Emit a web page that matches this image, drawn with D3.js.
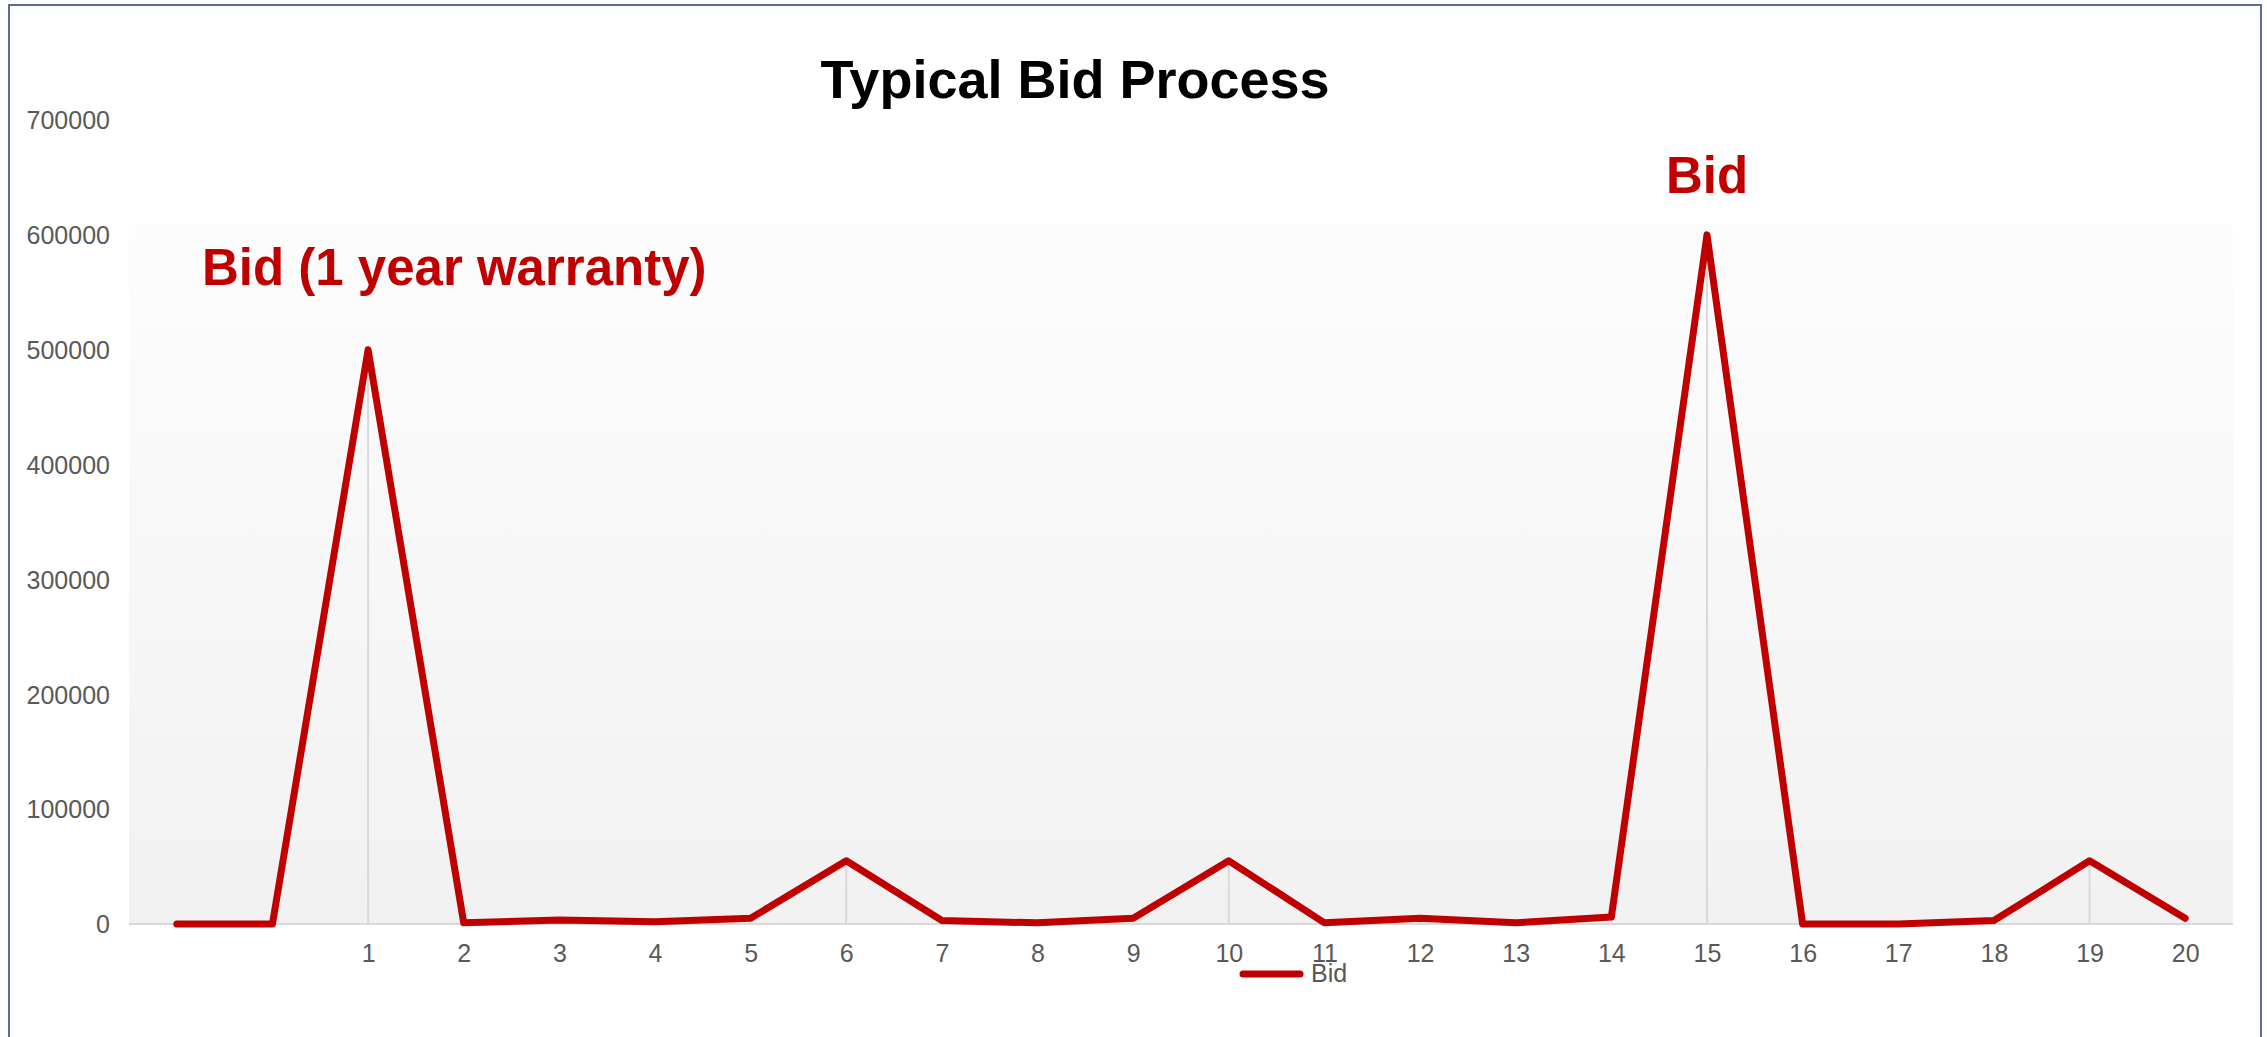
<!DOCTYPE html>
<html>
<head>
<title>Typical Bid Process</title>
<style>
  body { margin: 0; background: #fff; }
  svg { display: block; font-family: "Liberation Sans", Arial, sans-serif; }
  .tick text { fill: #595959; font-size: 25px; }
</style>
</head>
<body>
<script src="https://cdnjs.cloudflare.com/ajax/libs/d3/7.8.5/d3.min.js"></script>
<script>
// category labels (first two points are unlabeled)
var labels = ["", "", "1", "2", "3", "4", "5", "6", "7", "8", "9", "10",
              "11", "12", "13", "14", "15", "16", "17", "18", "19", "20"];
var bid = [0, 0, 500000, 1000, 3500, 2000, 5000, 55000, 3000, 1000, 5000, 55000,
           1000, 5000, 1000, 6000, 600000, 0, 0, 3000, 55000, 5000];
var yTicks = [0, 100000, 200000, 300000, 400000, 500000, 600000, 700000];

var width = 2267,
    height = 1037,
    red = "#c00000";

var svg = d3.select("body").append("svg")
    .attr("width", width)
    .attr("height", height);

// outer frame
svg.append("rect")
    .attr("x", 9).attr("y", 5)
    .attr("width", 2252).attr("height", 1100)
    .attr("fill", "#fff")
    .attr("stroke", "#5f6a94")
    .attr("stroke-width", 2);

var x = d3.scalePoint()
    .domain(d3.range(labels.length))
    .range([129, 2233])
    .padding(0.5);

var y = d3.scaleLinear()
    .domain([0, 700000])
    .range([924, 120]);

// plot area gradient
var grad = svg.append("defs").append("linearGradient")
    .attr("id", "bg").attr("x1", 0).attr("y1", 0).attr("x2", 0).attr("y2", 1);
grad.append("stop").attr("offset", "0%").attr("stop-color", "#fdfdfd");
grad.append("stop").attr("offset", "100%").attr("stop-color", "#f1f1f1");

svg.append("rect")
    .attr("x", 129).attr("y", 223)
    .attr("width", 2233 - 129).attr("height", 924 - 223)
    .attr("fill", "url(#bg)");

// title
svg.append("text")
    .attr("x", 1075).attr("y", 98)
    .attr("text-anchor", "middle")
    .style("font-size", "54px").style("font-weight", "bold")
    .text("Typical Bid Process");

// y axis labels
svg.append("g")
    .attr("transform", "translate(118,0)")
    .call(d3.axisLeft(y).tickValues(yTicks).tickSize(0).tickPadding(8).tickFormat(d3.format("d")))
    .call(function(g) { g.select(".domain").remove(); })
    .selectAll("text").attr("dy", "0.35em");

// drop lines
svg.append("g").selectAll("line")
    .data(bid)
    .join("line")
    .attr("x1", function(d, i) { return x(i); })
    .attr("x2", function(d, i) { return x(i); })
    .attr("y1", function(d) { return y(d); })
    .attr("y2", y(0))
    .attr("stroke", "#d9d9d9")
    .attr("stroke-width", 2);

// x axis
svg.append("line")
    .attr("x1", 129).attr("x2", 2233)
    .attr("y1", y(0)).attr("y2", y(0))
    .attr("stroke", "#d9d9d9").attr("stroke-width", 2);

svg.append("g")
    .attr("transform", "translate(0," + y(0) + ")")
    .call(d3.axisBottom(x).tickSize(0).tickPadding(20).tickFormat(function(i) { return labels[i]; }))
    .call(function(g) { g.select(".domain").remove(); })
    .selectAll("text").attr("dy", "0.71em");

// series line
var line = d3.line()
    .x(function(d, i) { return x(i); })
    .y(function(d) { return y(d); });

svg.append("path")
    .datum(bid)
    .attr("d", line)
    .attr("fill", "none")
    .attr("stroke", red)
    .attr("stroke-width", 7)
    .attr("stroke-linejoin", "round")
    .attr("stroke-linecap", "round");

// annotations
svg.append("text")
    .attr("x", 202).attr("y", 285)
    .attr("fill", red)
    .style("font-size", "51px").style("font-weight", "bold")
    .text("Bid (1 year warranty)");

svg.append("text")
    .attr("x", x(16)).attr("y", y(600000) - 42)
    .attr("text-anchor", "middle")
    .attr("fill", red)
    .style("font-size", "51px").style("font-weight", "bold")
    .text("Bid");

// legend
var legend = svg.append("g").attr("transform", "translate(1243,974)");
legend.append("line")
    .attr("x1", 0).attr("x2", 57)
    .attr("stroke", red).attr("stroke-width", 7)
    .attr("stroke-linecap", "round");
legend.append("text")
    .attr("x", 68).attr("y", 8)
    .attr("fill", "#595959")
    .style("font-size", "25px")
    .text("Bid");
</script>
</body>
</html>
